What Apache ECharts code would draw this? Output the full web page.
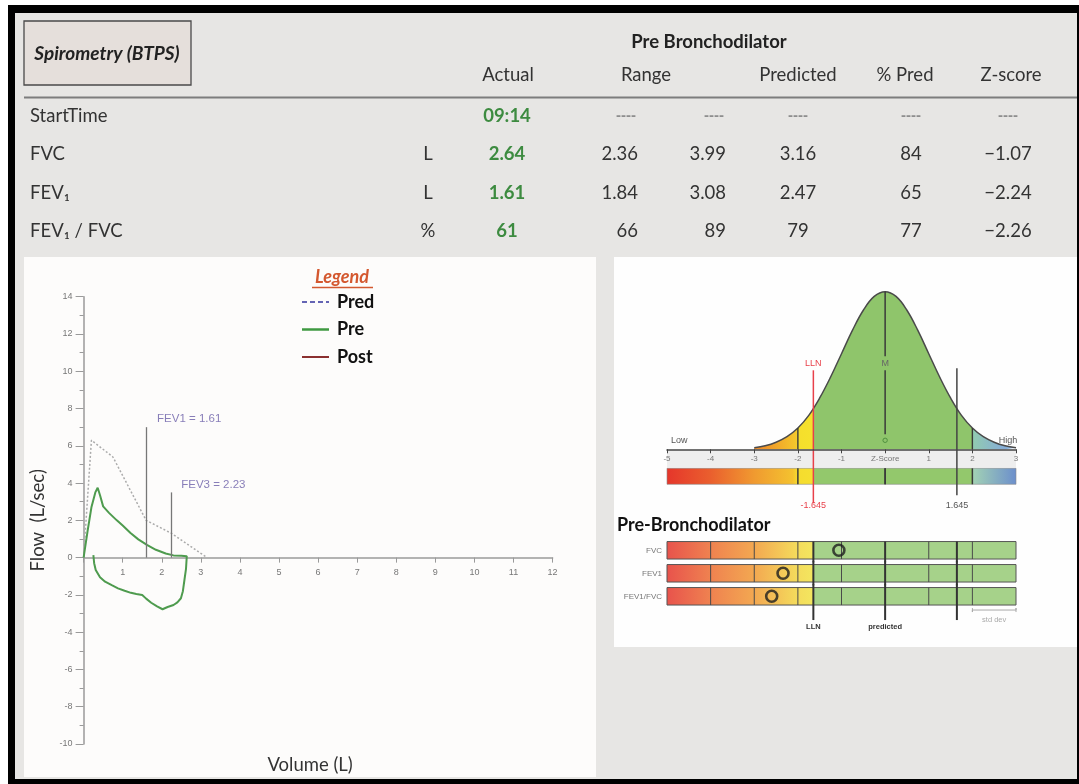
<!DOCTYPE html>
<html>
<head>
<meta charset="utf-8">
<script src="https://cdn.jsdelivr.net/npm/echarts@6/dist/echarts.min.js"></script>
<style>
  html, body { margin: 0; padding: 0; background: #ffffff; }
  #chart { width: 1079px; height: 784px; }
</style>
</head>
<body>
<div id="chart"></div>
<script>
// ---------- spirometry table ----------
const headerTitle = 'Spirometry (BTPS)';
const sectionTitle = 'Pre Bronchodilator';
const columnHeads = ['Actual', 'Range', 'Predicted', '% Pred', 'Z-score'];
const rowLabels = ['StartTime', 'FVC', 'FEV₁', 'FEV₁ / FVC'];
const rowUnits = ['', 'L', 'L', '%'];
const actualValues = ['09:14', '2.64', '1.61', '61'];
const rangeLow = ['----', '2.36', '1.84', '66'];
const rangeHigh = ['----', '3.99', '3.08', '89'];
const predictedValues = ['----', '3.16', '2.47', '79'];
const pctPredValues = ['----', '84', '65', '77'];
const zScoreValues = ['----', '−1.07', '−2.24', '−2.26'];

// ---------- flow-volume loop (volume L, flow L/s) ----------
const predVolume = [0, 0.2, 0.75, 1.6, 2.25, 3.16];
const predFlow = [0, 6.3, 5.4, 2.0, 1.3, 0];
const preVolume = [0, 0.1, 0.2, 0.3, 0.36, 0.42, 0.5, 0.65, 0.85, 1.0, 1.2, 1.4, 1.62, 1.85, 2.1, 2.3, 2.5, 2.64,
  2.64, 2.62, 2.58, 2.54, 2.49, 2.4, 2.3, 2.15, 2.02, 1.88, 1.73, 1.6, 1.5, 1.35, 1.21, 1.05, 0.88, 0.72, 0.55, 0.42, 0.31, 0.27, 0.25];
const preFlow = [0, 1.4, 2.7, 3.5, 3.75, 3.35, 2.75, 2.4, 2.0, 1.72, 1.32, 0.98, 0.68, 0.42, 0.22, 0.12, 0.1, 0.08,
  0.02, -0.6, -1.2, -1.8, -2.18, -2.4, -2.54, -2.65, -2.77, -2.62, -2.42, -2.2, -2.01, -1.95, -1.89, -1.78, -1.65, -1.48, -1.29, -1.05, -0.66, -0.3, 0.13];
const fevNames = ['FEV1', 'FEV3'];
const fevVolumes = [1.61, 2.23];
const fevMarkHeights = [7.0, 3.5];
const legendNames = ['Pred', 'Pre', 'Post'];
const flowMin = -10, flowMax = 14;

// ---------- z-score distribution ----------
const bellZ = [-3, -2.75, -2.5, -2.25, -2, -1.75, -1.5, -1.25, -1, -0.75, -0.5, -0.25, 0,
  0.25, 0.5, 0.75, 1, 1.25, 1.5, 1.75, 2, 2.25, 2.5, 2.75, 3];
const bellDensity = [0.004, 0.009, 0.018, 0.032, 0.054, 0.086, 0.13, 0.183, 0.242, 0.301, 0.352, 0.387, 0.399,
  0.387, 0.352, 0.301, 0.242, 0.183, 0.13, 0.086, 0.054, 0.032, 0.018, 0.009, 0.004];
const zMin = -5, zMax = 3;
const zLLN = -1.645, zULN = 1.645;
const zRowNames = ['FVC', 'FEV1', 'FEV1/FVC'];
const zMarkers = [-1.06, -2.34, -2.6];
const zGridLines = [-4, -3, -2, -1, 1, 2];
const zKeyLines = [zLLN, 0, zULN];

// ---------- styling ----------
const FONT = 'Lato, "Noto Sans", sans-serif';
const SMALL = '"Liberation Sans", Arial, sans-serif';
const DARK = '#333333';
const GREEN = '#3d8b40';
const TABLE_FONT = '18.5px ' + FONT;

const grad = (x0, x1, stops) =>
  new echarts.graphic.LinearGradient(x0, 0, x1, 0, stops, true);

const zBarStops = [
  { offset: 0, color: '#e5362b' }, { offset: 0.125, color: '#ea5f2e' },
  { offset: 0.25, color: '#f09a30' }, { offset: 0.36, color: '#f4c22f' },
  { offset: 0.375, color: '#f5dc2e' }, { offset: 0.419, color: '#f5e030' },
  { offset: 0.419, color: '#93c86c' }, { offset: 0.875, color: '#93c86c' },
  { offset: 0.875, color: '#a3d2b4' }, { offset: 1, color: '#6c8fcc' }
];
const rowBarStops = [
  { offset: 0, color: '#e8534c' }, { offset: 0.125, color: '#ef8250' },
  { offset: 0.25, color: '#f3a851' }, { offset: 0.375, color: '#f4dc5c' },
  { offset: 0.419, color: '#f3e65f' }, { offset: 0.419, color: '#a6d28a' },
  { offset: 1, color: '#a6d28a' }
];
const bellStops = [
  { offset: 0, color: '#ee8a2a' }, { offset: 0.033, color: '#ef9229' },
  { offset: 0.16, color: '#f4c72c' }, { offset: 0.1667, color: '#f5de2c' },
  { offset: 0.2258, color: '#f5e22d' }, { offset: 0.2258, color: '#8fc56b' },
  { offset: 0.8333, color: '#8fc56b' }, { offset: 0.8333, color: '#92cbb0' },
  { offset: 0.95, color: '#86aed6' }, { offset: 1, color: '#86aed6' }
];

// ---------- page background and table ----------
function txt(x, y, text, opts) {
  return {
    type: 'text', x: x, y: y, z: 10, silent: true,
    style: Object.assign({
      text: text, fill: DARK, font: TABLE_FONT,
      textAlign: 'center', textVerticalAlign: 'middle'
    }, opts || {})
  };
}

const graphics = [
  { type: 'rect', z: -10, silent: true, shape: { x: 8, y: 5, width: 1071, height: 779 }, style: { fill: '#000' } },
  { type: 'rect', z: -9, silent: true, shape: { x: 15, y: 13, width: 1062, height: 766 }, style: { fill: '#e7e6e4' } },
  { type: 'rect', z: -8, silent: true, shape: { x: 24, y: 257, width: 572, height: 520 }, style: { fill: '#fdfcfb' } },
  { type: 'rect', z: -8, silent: true, shape: { x: 614, y: 257, width: 463, height: 390 }, style: { fill: '#fefefe' } },
  { type: 'rect', z: 5, silent: true, shape: { x: 24, y: 21, width: 167, height: 64 },
    style: { fill: '#e5dfdb', stroke: '#4a4a4a', lineWidth: 1.3 } },
  txt(107, 54, headerTitle, { font: 'italic bold 19px ' + FONT, fill: '#222' }),
  { type: 'line', z: 5, silent: true, shape: { x1: 24, y1: 97.5, x2: 1077, y2: 97.5 }, style: { stroke: '#7d7d7d', lineWidth: 2 } },
  txt(709, 42, sectionTitle, { font: 'bold ' + TABLE_FONT, fill: '#222' })
];

const headX = [508, 646, 798, 905, 1011];
columnHeads.forEach((h, i) => graphics.push(txt(headX[i], 75, h)));

const rowY = [116, 154, 193, 231];
function cell(x, y, v, align) {
  const isDash = v === '----';
  return txt(isDash && align === 'right' ? x - 2 : x, y, v, {
    textAlign: align,
    font: isDash ? 'bold 15px ' + SMALL : TABLE_FONT,
    fill: isDash ? '#8e8e8e' : DARK
  });
}
rowLabels.forEach((lab, r) => {
  const y = rowY[r];
  graphics.push(txt(30, y, lab, { textAlign: 'left' }));
  if (rowUnits[r]) graphics.push(txt(428, y, rowUnits[r]));
  graphics.push(txt(507, y, actualValues[r], { font: 'bold ' + TABLE_FONT, fill: GREEN }));
  graphics.push(cell(638, y, rangeLow[r], 'right'));
  graphics.push(cell(726, y, rangeHigh[r], 'right'));
  graphics.push(cell(798, y, predictedValues[r], 'center'));
  graphics.push(cell(911, y, pctPredValues[r], 'center'));
  graphics.push(cell(1008, y, zScoreValues[r], 'center'));
});

// flow-volume legend
const legendColors = ['#6464b4', '#3f9a42', '#8b3030'];
const legendDash = [[5, 3], null, null];
graphics.push(txt(342, 277, 'Legend', { font: 'italic bold 18px ' + FONT, fill: '#d4582f' }));
graphics.push({ type: 'line', z: 10, silent: true, shape: { x1: 312, y1: 287.5, x2: 373, y2: 287.5 }, style: { stroke: '#d4582f', lineWidth: 1.3 } });
legendNames.forEach((n, i) => {
  const y = 302 + i * 27.5;
  graphics.push({ type: 'line', z: 10, silent: true, shape: { x1: 302, y1: y, x2: 329, y2: y },
    style: { stroke: legendColors[i], lineWidth: i === 1 ? 2.5 : 2, lineDash: legendDash[i] } });
  graphics.push(txt(337, y, n, { textAlign: 'left', font: 'bold 18px ' + FONT, fill: '#111' }));
});

// Pre-Bronchodilator title
graphics.push(txt(617, 525, 'Pre-Bronchodilator', { textAlign: 'left', font: 'bold 18px ' + FONT, fill: '#111' }));

// ---------- custom renderers ----------
function renderZScale(params, api) {
  const base = api.coord([0, 0])[1];
  const xs = z => api.coord([z, 0])[0];
  const xL = xs(zMin), xR = xs(zMax);
  const dens = z => bellDensity[bellZ.indexOf(z)];
  const ln = (x, y1, y2, stroke, w) => ({ type: 'line', shape: { x1: x, y1: y1, x2: x, y2: y2 }, style: { stroke: stroke, lineWidth: w } });
  const t = (x, y, s, fill, align) => ({ type: 'text', x: x, y: y,
    style: { text: s, fill: fill, font: '9px ' + SMALL, textAlign: align || 'center', textVerticalAlign: 'middle' } });
  const c = [];
  c.push({ type: 'rect', shape: { x: xL, y: base + 1, width: xR - xL, height: 17 }, style: { fill: '#eeeeee' } });
  c.push({ type: 'rect', shape: { x: xL, y: base + 19, width: xR - xL, height: 16 },
    style: { fill: grad(xL, xR, zBarStops), stroke: '#8a8a8a', lineWidth: 0.6 } });
  [-2, 0, 2].forEach(z => c.push(ln(xs(z), base + 19, base + 35, '#3a3a3a', 1.5)));
  [-2, 2].forEach(z => c.push(ln(xs(z), api.coord([z, dens(z)])[1], base, '#3a3a3a', 1.4)));
  const peak = api.coord([0, dens(0)])[1];
  const xm = xs(0);
  c.push(ln(xm, peak, base - 93, '#3a3a3a', 1.5));
  c.push(ln(xm, base - 79, base - 15, '#3a3a3a', 1.5));
  c.push(ln(xm, base + 19, base + 35, '#3a3a3a', 1.5));
  c.push({ type: 'circle', shape: { cx: xm, cy: base - 9, r: 2.2 }, style: { fill: 'none', stroke: '#4f8f3f', lineWidth: 1 } });
  c.push(ln(xs(zLLN), base - 79, base + 54, '#e8404a', 1.5));
  c.push(ln(xs(zULN), base - 81, base + 46, '#444', 1.5));
  c.push(t(xs(zLLN), base - 86, 'LLN', '#e8404a'));
  c.push(t(xm, base - 86, 'M', '#666'));
  c.push(t(xs(zLLN), base + 56, '-1.645', '#e8404a'));
  c.push(t(xs(zULN), base + 56, '1.645', '#555'));
  c.push(t(xL + 4, base - 9, 'Low', '#555', 'left'));
  c.push(t(xR - 8, base - 9, 'High', '#555'));
  return { type: 'group', children: c };
}

function renderZBars(params, api) {
  const row = api.value(1);
  const band = api.size([0, 1])[1];
  const h = band * 0.76;
  const gap = (band - h) / 2;
  const cy = api.coord([0, row])[1];
  const xs = z => api.coord([z, row])[0];
  const xL = xs(zMin), xR = xs(zMax);
  const top = cy - h / 2, bot = cy + h / 2;
  const first = row === 0, last = row === zRowNames.length - 1;
  const c = [{ type: 'rect', shape: { x: xL, y: top, width: xR - xL, height: h },
    style: { fill: grad(xL, xR, rowBarStops), stroke: '#555', lineWidth: 1 } }];
  zGridLines.forEach(z => c.push({ type: 'line', shape: { x1: xs(z), y1: top, x2: xs(z), y2: bot }, style: { stroke: '#4a4a4a', lineWidth: 1 } }));
  zKeyLines.forEach(z => c.push({ type: 'line',
    shape: { x1: xs(z), y1: first ? top : top - gap - 0.5, x2: xs(z), y2: last ? bot + 15 : bot + gap + 0.5 },
    style: { stroke: '#333', lineWidth: 2 } }));
  if (last) {
    const t = (x, y, s, fill) => ({ type: 'text', x: x, y: y,
      style: { text: s, fill: fill, font: 'bold 7.5px ' + SMALL, textAlign: 'center', textVerticalAlign: 'middle' } });
    c.push(t(xs(zLLN), bot + 22, 'LLN', '#333'));
    c.push(t(xs(0), bot + 22, 'predicted', '#333'));
    const a = xs(2), b = xs(3), yb = bot + 5;
    c.push({ type: 'polyline', shape: { points: [[a, yb - 2], [a, yb + 2], [a, yb], [b, yb], [b, yb - 2], [b, yb + 2]] }, style: { stroke: '#aaa', lineWidth: 1, fill: 'none' } });
    c.push({ type: 'text', x: (a + b) / 2, y: bot + 15, style: { text: 'std dev', fill: '#aaa', font: '7.5px ' + SMALL, textAlign: 'center', textVerticalAlign: 'middle' } });
  }
  return { type: 'group', children: c };
}

// ---------- chart ----------
const chart = echarts.init(document.getElementById('chart'), null, { renderer: 'canvas' });
const axisGray = '#9a9a9a';
const flowGrid = { left: 83.6, top: 296.7, width: 469, height: 447.3 };
// the volume axis sits on the zero-flow line
const zeroOffset = -flowGrid.height * (0 - flowMin) / (flowMax - flowMin);

chart.setOption({
  animation: false,
  backgroundColor: '#ffffff',
  graphic: graphics,
  grid: [
    Object.assign({ containLabel: false, outerBoundsMode: 'none' }, flowGrid),
    { left: 667, top: 291.3, width: 349, height: 158, containLabel: false, outerBoundsMode: 'none' },
    { left: 667, top: 538.8, width: 349, height: 69, containLabel: false, outerBoundsMode: 'none' }
  ],
  xAxis: [
    { gridIndex: 0, type: 'value', min: 0, max: 12, interval: 1, position: 'bottom', offset: zeroOffset,
      axisLine: { onZero: false, lineStyle: { color: axisGray, width: 1.5 } },
      axisTick: { show: true, length: 5, lineStyle: { color: axisGray } },
      axisLabel: { fontSize: 9, color: '#777', margin: 10, fontFamily: SMALL, formatter: v => (v === 0 ? '' : String(v)) },
      splitLine: { show: false },
      name: 'Volume (L)', nameLocation: 'middle', nameGap: 198,
      nameTextStyle: { fontSize: 18.5, color: DARK, fontFamily: FONT, padding: [0, 16, 0, 0] } },
    { gridIndex: 1, type: 'value', min: zMin, max: zMax, interval: 1, z: 10,
      axisLine: { onZero: false, lineStyle: { color: '#444', width: 1.5 } },
      axisTick: { show: true, length: 4, lineStyle: { color: '#444' } },
      axisLabel: { fontSize: 8, color: '#777', margin: 5, fontFamily: SMALL, formatter: v => (v === 0 ? 'Z-Score' : String(v)) },
      splitLine: { show: false } },
    { gridIndex: 2, type: 'value', min: zMin, max: zMax, show: false, splitLine: { show: false } }
  ],
  yAxis: [
    { gridIndex: 0, type: 'value', min: flowMin, max: flowMax, interval: 2,
      axisLine: { show: true, onZero: false, lineStyle: { color: axisGray, width: 1.5 } },
      axisTick: { show: true, length: 8, lineStyle: { color: axisGray } },
      minorTick: { show: true, splitNumber: 2, length: 4, lineStyle: { color: axisGray } },
      axisLabel: { fontSize: 9, color: '#777', margin: 11, fontFamily: SMALL },
      splitLine: { show: false }, minorSplitLine: { show: false },
      name: 'Flow  (L/sec)', nameLocation: 'middle', nameGap: 36, nameRotate: 90,
      nameTextStyle: { fontSize: 18.5, color: DARK, fontFamily: FONT } },
    { gridIndex: 1, type: 'value', min: 0, max: 0.4, show: false, splitLine: { show: false } },
    { gridIndex: 2, type: 'category', data: zRowNames, inverse: true,
      axisLine: { show: false }, axisTick: { show: false },
      axisLabel: { fontSize: 8, color: '#777', margin: 5, fontFamily: SMALL },
      splitLine: { show: false } }
  ],
  series: [
    { name: 'Pred', type: 'line', xAxisIndex: 0, yAxisIndex: 0, z: 3,
      data: predVolume.map((v, i) => [v, predFlow[i]]),
      symbol: 'none', smooth: false,
      lineStyle: { color: '#ababab', width: 1.5, type: [2, 2] },
      markLine: {
        silent: true, symbol: 'none', animation: false,
        label: { show: false },
        lineStyle: { color: '#777', width: 1.3, type: 'solid' },
        data: fevNames.map((n, i) => [{ coord: [fevVolumes[i], 0] }, { coord: [fevVolumes[i], fevMarkHeights[i]] }])
      } },
    { name: 'Pre', type: 'line', xAxisIndex: 0, yAxisIndex: 0, z: 4,
      data: preVolume.map((v, i) => [v, preFlow[i]]),
      symbol: 'none', smooth: false,
      lineStyle: { color: '#4e9b4e', width: 2 } },
    { name: 'FEV labels', type: 'scatter', xAxisIndex: 0, yAxisIndex: 0, z: 5,
      symbolSize: 1, itemStyle: { color: 'rgba(0,0,0,0)' },
      data: fevNames.map((n, i) => ({ name: n, value: [fevVolumes[i], fevMarkHeights[i]] })),
      label: { show: true, position: 'right', distance: 5, offset: [5, -8],
        formatter: p => p.name + ' = ' + p.value[0].toFixed(2),
        color: '#6a5ea8', fontSize: 11.5, fontFamily: SMALL } },
    { name: 'Distribution', type: 'line', xAxisIndex: 1, yAxisIndex: 1, z: 2,
      data: bellZ.map((z, i) => [z, bellDensity[i]]),
      symbol: 'none', smooth: 0.4,
      lineStyle: { color: '#4a4a4a', width: 1.5 },
      areaStyle: { opacity: 1, color: new echarts.graphic.LinearGradient(0, 0, 1, 0, bellStops) } },
    { name: 'Z scale', type: 'custom', xAxisIndex: 1, yAxisIndex: 1, z: 3,
      data: [[0, 0]], renderItem: renderZScale, silent: true },
    { name: 'Z rows', type: 'custom', xAxisIndex: 2, yAxisIndex: 2, z: 3,
      data: zRowNames.map((n, i) => [zMax, i]), encode: { x: 0, y: 1 },
      renderItem: renderZBars, silent: true },
    { name: 'Z markers', type: 'scatter', xAxisIndex: 2, yAxisIndex: 2, z: 6,
      data: zMarkers.map((z, i) => [z, i]),
      symbol: 'circle', symbolSize: 11,
      itemStyle: { color: 'rgba(0,0,0,0)', borderColor: '#1e1e1e', borderWidth: 2.6 } }
  ]
});
</script>
</body>
</html>
